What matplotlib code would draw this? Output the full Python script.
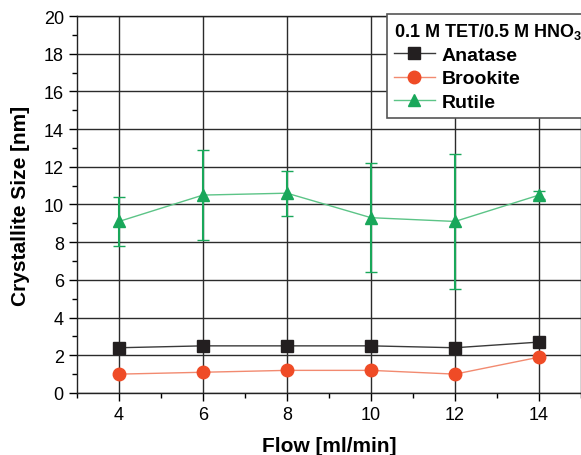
import numpy as np
import matplotlib
matplotlib.use("Agg")
import matplotlib.pyplot as plt
from matplotlib.ticker import MultipleLocator
from matplotlib.lines import Line2D

plt.rcParams['font.family'] = ['Liberation Sans', 'DejaVu Sans']
plt.rcParams['mathtext.fontset'] = 'custom'
plt.rcParams['mathtext.rm'] = 'Liberation Sans:bold'

# data
flow = [4, 6, 8, 10, 12, 14]
anatase = [2.4, 2.5, 2.5, 2.5, 2.4, 2.7]
brookite = [1.0, 1.1, 1.2, 1.2, 1.0, 1.9]
rutile = [9.1, 10.5, 10.6, 9.3, 9.1, 10.5]
rutile_err = [1.3, 2.4, 1.2, 2.9, 3.6, 0.2]

legend_title = r"0.1 M TET/0.5 M HNO$_\mathregular{3}$"

fig = plt.figure(figsize=(5.81, 4.56), dpi=100)
ax = fig.add_axes([0.1325, 0.136, 0.8675, 0.8267])

h1, = ax.plot(flow, anatase, color='#3a3a3a', lw=1.0, marker='s', ms=8,
              mfc='#231f20', mec='#231f20', label='Anatase', zorder=4)
h2, = ax.plot(flow, brookite, color='#f28a70', lw=1.0, marker='o', ms=9,
              mfc='#ef4b26', mec='#ef4b26', label='Brookite', zorder=4)
ax.errorbar(flow, rutile, yerr=rutile_err, color='#5cc487', lw=1.0,
            marker='^', ms=9, mfc='#19a75a', mec='#19a75a',
            ecolor='#19a75a', elinewidth=1.5, capsize=4, capthick=1.0,
            zorder=4)
h3 = Line2D([], [], color='#5cc487', lw=1.0, marker='^', ms=9,
            mfc='#19a75a', mec='#19a75a', label='Rutile')

ax.set_xlim(3, 15)
ax.set_ylim(0, 20)
ax.xaxis.set_major_locator(MultipleLocator(2))
ax.xaxis.set_minor_locator(MultipleLocator(1))
ax.yaxis.set_major_locator(MultipleLocator(2))
ax.yaxis.set_minor_locator(MultipleLocator(1))
ax.set_xticks([4, 6, 8, 10, 12, 14])
ax.grid(True, which='major', color='#2b2b2b', lw=1.0)
ax.set_axisbelow(True)

ax.tick_params(which='major', direction='out', length=6, width=1, labelsize=13)
ax.tick_params(which='minor', direction='out', length=3.5, width=1)
ax.tick_params(top=False, right=False)
for s in ax.spines.values():
    s.set_color('#222222')
    s.set_linewidth(1.0)

ax.set_xlabel('Flow [ml/min]', fontsize=15, fontweight='bold', labelpad=9)
ax.set_ylabel('Crystallite Size [nm]', fontsize=15, fontweight='bold', labelpad=10)

leg = ax.legend(handles=[h1, h2, h3], title=legend_title, loc='upper left',
                bbox_to_anchor=(0.615, 1.006), borderaxespad=0,
                frameon=True, fancybox=False,
                edgecolor='#555555', framealpha=1, borderpad=0.35,
                handlelength=2.1, handletextpad=0.35, labelspacing=0.3,
                prop={'size': 14, 'weight': 'bold'},
                title_fontproperties={'size': 13, 'weight': 'bold'},
                alignment='left')
leg.get_frame().set_linewidth(1.2)
leg.set_zorder(10)

fig.savefig('out.png', dpi=100)
